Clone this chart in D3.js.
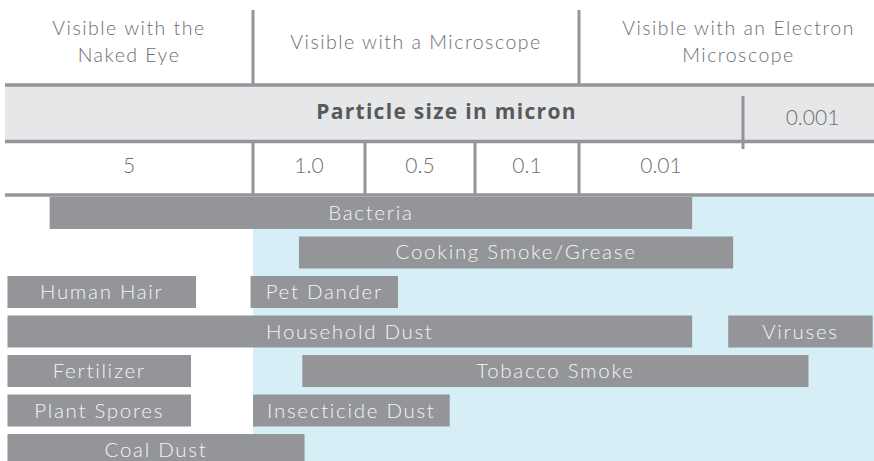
<!DOCTYPE html>
<html>
<head>
<meta charset="utf-8">
<script src="https://cdn.jsdelivr.net/npm/d3@7"></script>
<style>
  body { margin: 0; background: #fff; }
  svg { display: block; font-family: "Lato", sans-serif; }
</style>
</head>
<body>
<div id="container"></div>
<script>
(function() {

// Size columns (left = largest particles)
let sizeLabels = ["5", "1.0", "0.5", "0.1", "0.01", "0.001"];

// Visibility groups, spanning column indices
let visibilityLabels = [["Visible with the", "Naked Eye"], ["Visible with a Microscope"], ["Visible with an Electron", "Microscope"]];
let visibilityFrom = [0, 1, 4];
let visibilityTo = [1, 4, 6];

// Particles: row, start and end in column units
let particleNames = ["Bacteria", "Cooking Smoke/Grease", "Human Hair", "Pet Dander", "Household Dust", "Viruses",
  "Fertilizer", "Tobacco Smoke", "Plant Spores", "Insecticide Dust", "Coal Dust"];
let particleRow = [0, 1, 2, 2, 3, 3, 4, 4, 5, 5, 6];
let particleStart = [0.18, 1.41, 0.01, 0.99, 0.01, 4.91, 0.01, 1.44, 0.01, 1.0, 0.01];
let particleEnd = [4.69, 4.94, 0.77, 2.30, 4.69, 5.99, 0.75, 5.50, 0.75, 2.77, 1.46];

let width = 874;
let height = 461;

let gray = "#939598";
let textGray = "#6d6e71";

let svg = d3.select("#container")
  .append("svg")
    .attr("width", width)
    .attr("height", height);

// column scale (piecewise, columns are not equal width)
let x = d3.scaleLinear()
  .domain([0, 1, 2, 3, 4, 5, 6])
  .range([5, 253, 365, 475, 579, 743, 874]);

let rows = d3.range(7);
let y = d3.scaleBand()
  .domain(rows)
  .range([197, 466])
  .paddingInner(0.19)
  .paddingOuter(0);

// microscope background
svg.append("rect")
  .attr("x", x(1))
  .attr("y", y.range()[0])
  .attr("width", x(6) - x(1))
  .attr("height", height - y.range()[0])
  .attr("fill", "#d6eff7");

// header: visibility
let header = svg.append("g");
visibilityLabels.forEach((lines, i) => {
  let cx = (x(visibilityFrom[i]) + x(visibilityTo[i])) / 2;
  if (i == 2) cx += 12;
  let t = header.append("text")
    .attr("text-anchor", "middle")
    .attr("fill", textGray)
    .style("font-size", "19.5px")
    .style("font-weight", 300)
    .style("letter-spacing", "1.5px");
  let y0 = lines.length == 1 ? 49 : 35;
  lines.forEach((l, j) => {
    t.append("tspan").attr("x", cx).attr("y", y0 + j * 27).text(l);
  });
});
visibilityFrom.slice(1).forEach((c) => {
  header.append("line")
    .attr("x1", x(c)).attr("x2", x(c))
    .attr("y1", 10).attr("y2", 85)
    .attr("stroke", gray).attr("stroke-width", 3);
});

// title band
svg.append("rect")
  .attr("x", x(0)).attr("y", 86)
  .attr("width", x(6) - x(0)).attr("height", 55)
  .attr("fill", "#e6e7e8");
svg.append("text")
  .attr("x", (x(0) + x(6)) / 2 + 7)
  .attr("y", 119)
  .attr("text-anchor", "middle")
  .attr("fill", "#58595b")
  .style("font-family", "'Open Sans', sans-serif")
  .style("font-size", "21px")
  .style("font-weight", 700)
  .style("letter-spacing", "1.3px")
  .text("Particle size in micron");

[85, 141.5, 195].forEach((ly) => {
  svg.append("line")
    .attr("x1", x(0)).attr("x2", x(6))
    .attr("y1", ly).attr("y2", ly)
    .attr("stroke", gray).attr("stroke-width", 3.5);
});

// size columns
svg.append("g")
  .selectAll("line")
  .data([1, 2, 3, 4])
  .enter()
  .append("line")
    .attr("x1", (d) => x(d)).attr("x2", (d) => x(d))
    .attr("y1", 142).attr("y2", 195)
    .attr("stroke", gray).attr("stroke-width", 3);
svg.append("line")
  .attr("x1", x(5)).attr("x2", x(5))
  .attr("y1", 96).attr("y2", 149)
  .attr("stroke", gray).attr("stroke-width", 3);

svg.append("g")
  .selectAll("text")
  .data(sizeLabels)
  .enter()
  .append("text")
    .attr("x", (d, i) => (x(i) + x(i + 1)) / 2 + (i == 5 ? 4 : 0))
    .attr("y", (d, i) => i == 5 ? 125 : 173)
    .attr("text-anchor", "middle")
    .attr("fill", textGray)
    .style("font-size", "21px")
    .style("font-weight", 300)
    .text((d) => d);

// particle bars
let bars = svg.append("g")
  .selectAll("g")
  .data(particleNames)
  .enter()
  .append("g");
bars.append("rect")
  .attr("x", (d, i) => x(particleStart[i]))
  .attr("y", (d, i) => y(particleRow[i]))
  .attr("width", (d, i) => x(particleEnd[i]) - x(particleStart[i]))
  .attr("height", y.bandwidth())
  .attr("fill", gray);
bars.append("text")
  .attr("x", (d, i) => (x(particleStart[i]) + x(particleEnd[i])) / 2)
  .attr("y", (d, i) => y(particleRow[i]) + y.bandwidth() / 2 + 7)
  .attr("text-anchor", "middle")
  .attr("fill", "#f4f4f5")
  .style("font-size", "20.5px")
  .style("font-weight", 300)
  .style("letter-spacing", "1.7px")
  .text((d) => d);

})();
</script>
</body>
</html>
